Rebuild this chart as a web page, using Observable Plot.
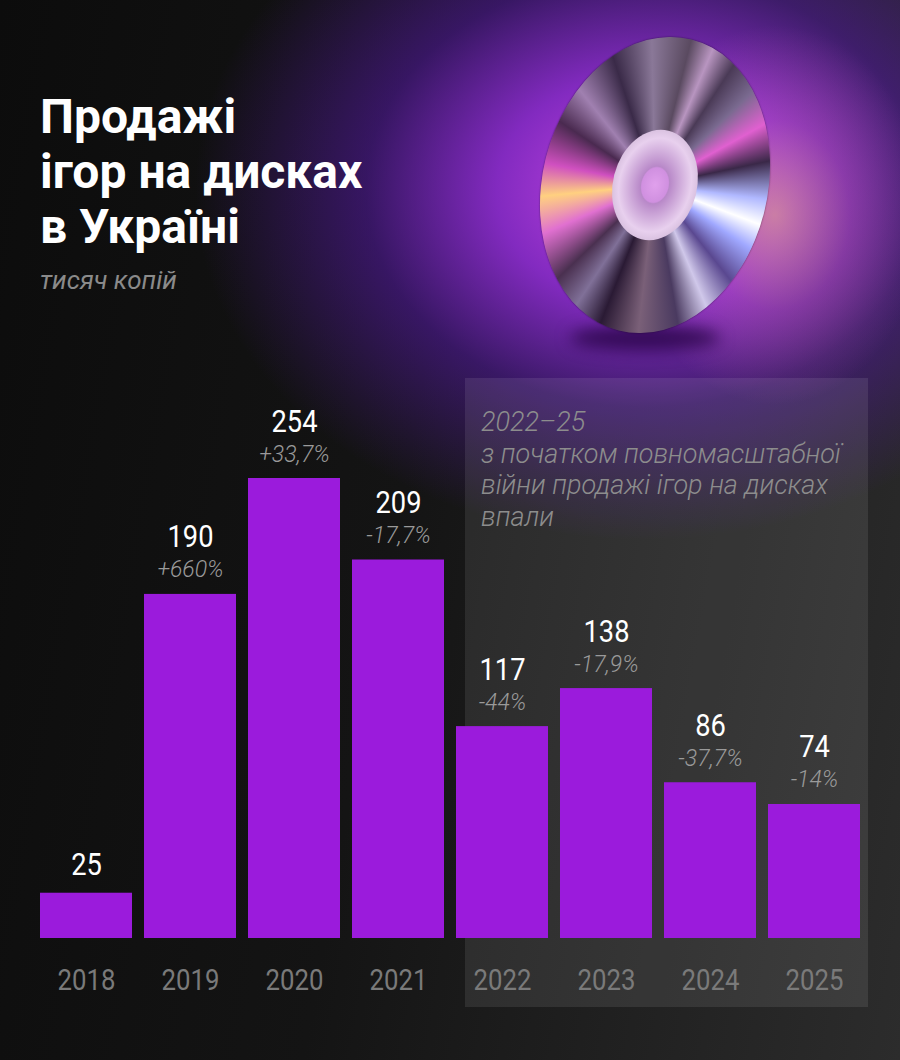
<!DOCTYPE html>
<html>
<head>
<meta charset="utf-8">
<script src="https://cdn.jsdelivr.net/npm/d3@7"></script>
<script src="https://cdn.jsdelivr.net/npm/@observablehq/plot@0.6"></script>
<style>
  html, body { margin: 0; padding: 0; background: #111; }
  #page {
    position: relative; width: 900px; height: 1060px; overflow: hidden;
    font-family: Roboto, "Noto Sans", sans-serif;
    background:
      radial-gradient(ellipse 150px 190px at 775px 215px, rgba(255,190,140,0.55) 0%, rgba(240,120,200,0.25) 50%, rgba(240,120,200,0) 100%),
      radial-gradient(ellipse 450px 350px at 645px 190px, rgba(200,70,230,1) 0%, rgba(145,45,215,0.88) 33%, rgba(85,25,165,0.55) 62%, rgba(35,15,80,0) 100%),
      linear-gradient(100deg, #0c0c0c 0%, #141414 45%, #2c2c2c 100%);
  }
  #title {
    position: absolute; left: 40px; top: 89px; margin: 0;
    color: #fff; font-weight: 700; font-size: 48px; line-height: 55px;
  }
  #subtitle {
    position: absolute; left: 40px; top: 265px; color: #8a8a8a;
    font-style: italic; font-weight: 400; font-size: 26px;
  }
  #shade {
    position: absolute; left: 465px; top: 378px; width: 403px; height: 629px;
    background: rgba(255,255,255,0.09);
  }
  #note {
    position: absolute; left: 481px; top: 407px; color: #8d8d8d;
    font-style: italic; font-weight: 300; font-size: 27px; line-height: 31.5px;
  }
  #disc {
    position: absolute; left: 505px; top: 35px; width: 300px; height: 300px;
    border-radius: 50%;
    transform: rotate(14deg) scaleX(0.75);
    background: conic-gradient(from 0deg,
      #5a4a60 0deg, #b895c0 12deg, #4a3a56 25deg, #7a6a90 40deg, #e060d0 55deg, #3a2848 70deg,
      #b0b8ff 85deg, #ffffff 95deg, #a0a8ff 105deg, #5a4890 120deg, #d0c8ea 135deg, #4a3a60 150deg,
      #7a6078 170deg, #2a1a34 190deg, #807098 205deg, #4a3050 220deg, #e070d0 240deg,
      #ffd080 255deg, #d050c0 268deg, #4a2a50 285deg, #a080b0 300deg, #3a2a48 320deg, #8a7898 340deg, #5a4a60 360deg);
    box-shadow: 0 0 2px rgba(0,0,0,0.6);
  }
  #hub {
    position: absolute; left: 94px; top: 94px; width: 112px; height: 112px; border-radius: 50%;
    background: radial-gradient(circle at 50% 50%, #e0a0ec 0%, #d090e0 22%, #b888c8 24%, #e8d0ee 60%, #c8b0d0 84%, #4a3a50 87%, #7a6a80 100%);
  }
  #shadow {
    position: absolute; left: 570px; top: 325px; width: 150px; height: 26px; border-radius: 50%;
    background: rgba(40,5,70,0.8); filter: blur(8px);
  }
  #chart { position: absolute; left: 0; top: 370px; }
</style>
</head>
<body>
<div id="page">
  <div id="shadow"></div>
  <div id="disc"><div id="hub"></div></div>
  <h1 id="title">Продажі<br>ігор на дисках<br>в Україні</h1>
  <div id="subtitle">тисяч копій</div>
  <div id="shade"></div>
  <div id="note">2022–25<br>з початком повномасштабної<br>війни продажі ігор на дисках<br>впали</div>
  <div id="chart"></div>
</div>
<script>
const years = ["2018", "2019", "2020", "2021", "2022", "2023", "2024", "2025"];
const sales = [25, 190, 254, 209, 117, 138, 86, 74];
const changes = ["", "+660%", "+33,7%", "-17,7%", "-44%", "-17,9%", "-37,7%", "-14%"];

const data = years.map((year, i) => ({year, value: sales[i], change: changes[i]}));
const withChange = data.filter(d => d.change);
const noChange = data.filter(d => !d.change);

const plot = Plot.plot({
  width: 900,
  height: 690,
  marginLeft: 40,
  marginRight: 40,
  marginTop: 108,
  marginBottom: 122,
  style: {background: "transparent", fontFamily: "Roboto, sans-serif", overflow: "visible"},
  x: {domain: years, paddingInner: 12 / 104, paddingOuter: 0, axis: null},
  y: {domain: [0, 254], axis: null},
  marks: [
    Plot.barY(data, {x: "year", y: "value", fill: "#9b1bdc"}),
    Plot.text(data, {x: "year", y: 0, text: "year", lineAnchor: "top", dy: 30, fontSize: 30, fill: "#7a7a7a"}),
    Plot.text(withChange, {x: "year", y: "value", text: d => String(d.value), lineAnchor: "bottom",
      dy: -47, fontSize: 31, fill: "#ffffff"}),
    Plot.text(noChange, {x: "year", y: "value", text: d => String(d.value), lineAnchor: "bottom",
      dy: -18, fontSize: 31, fill: "#ffffff"}),
    Plot.text(withChange, {x: "year", y: "value", text: "change", lineAnchor: "bottom", dy: -17,
      fontSize: 23, fontStyle: "italic", fontWeight: 300, fill: "#9a9a9a"})
  ]
});
document.getElementById("chart").appendChild(plot);

// narrow the condensed numerals (years and values) around their own centres
const groups = d3.select(plot).selectAll('g[aria-label="text"]').nodes();
[groups[0], groups[1], groups[2]].forEach((g, k) => {
  const f = k === 0 ? 0.86 : 0.88;
  d3.select(g).selectAll("text").each(function() {
    const w = this.getComputedTextLength();
    this.setAttribute("textLength", (w * f).toFixed(1));
    this.setAttribute("lengthAdjust", "spacingAndGlyphs");
  });
});
</script>
</body>
</html>
